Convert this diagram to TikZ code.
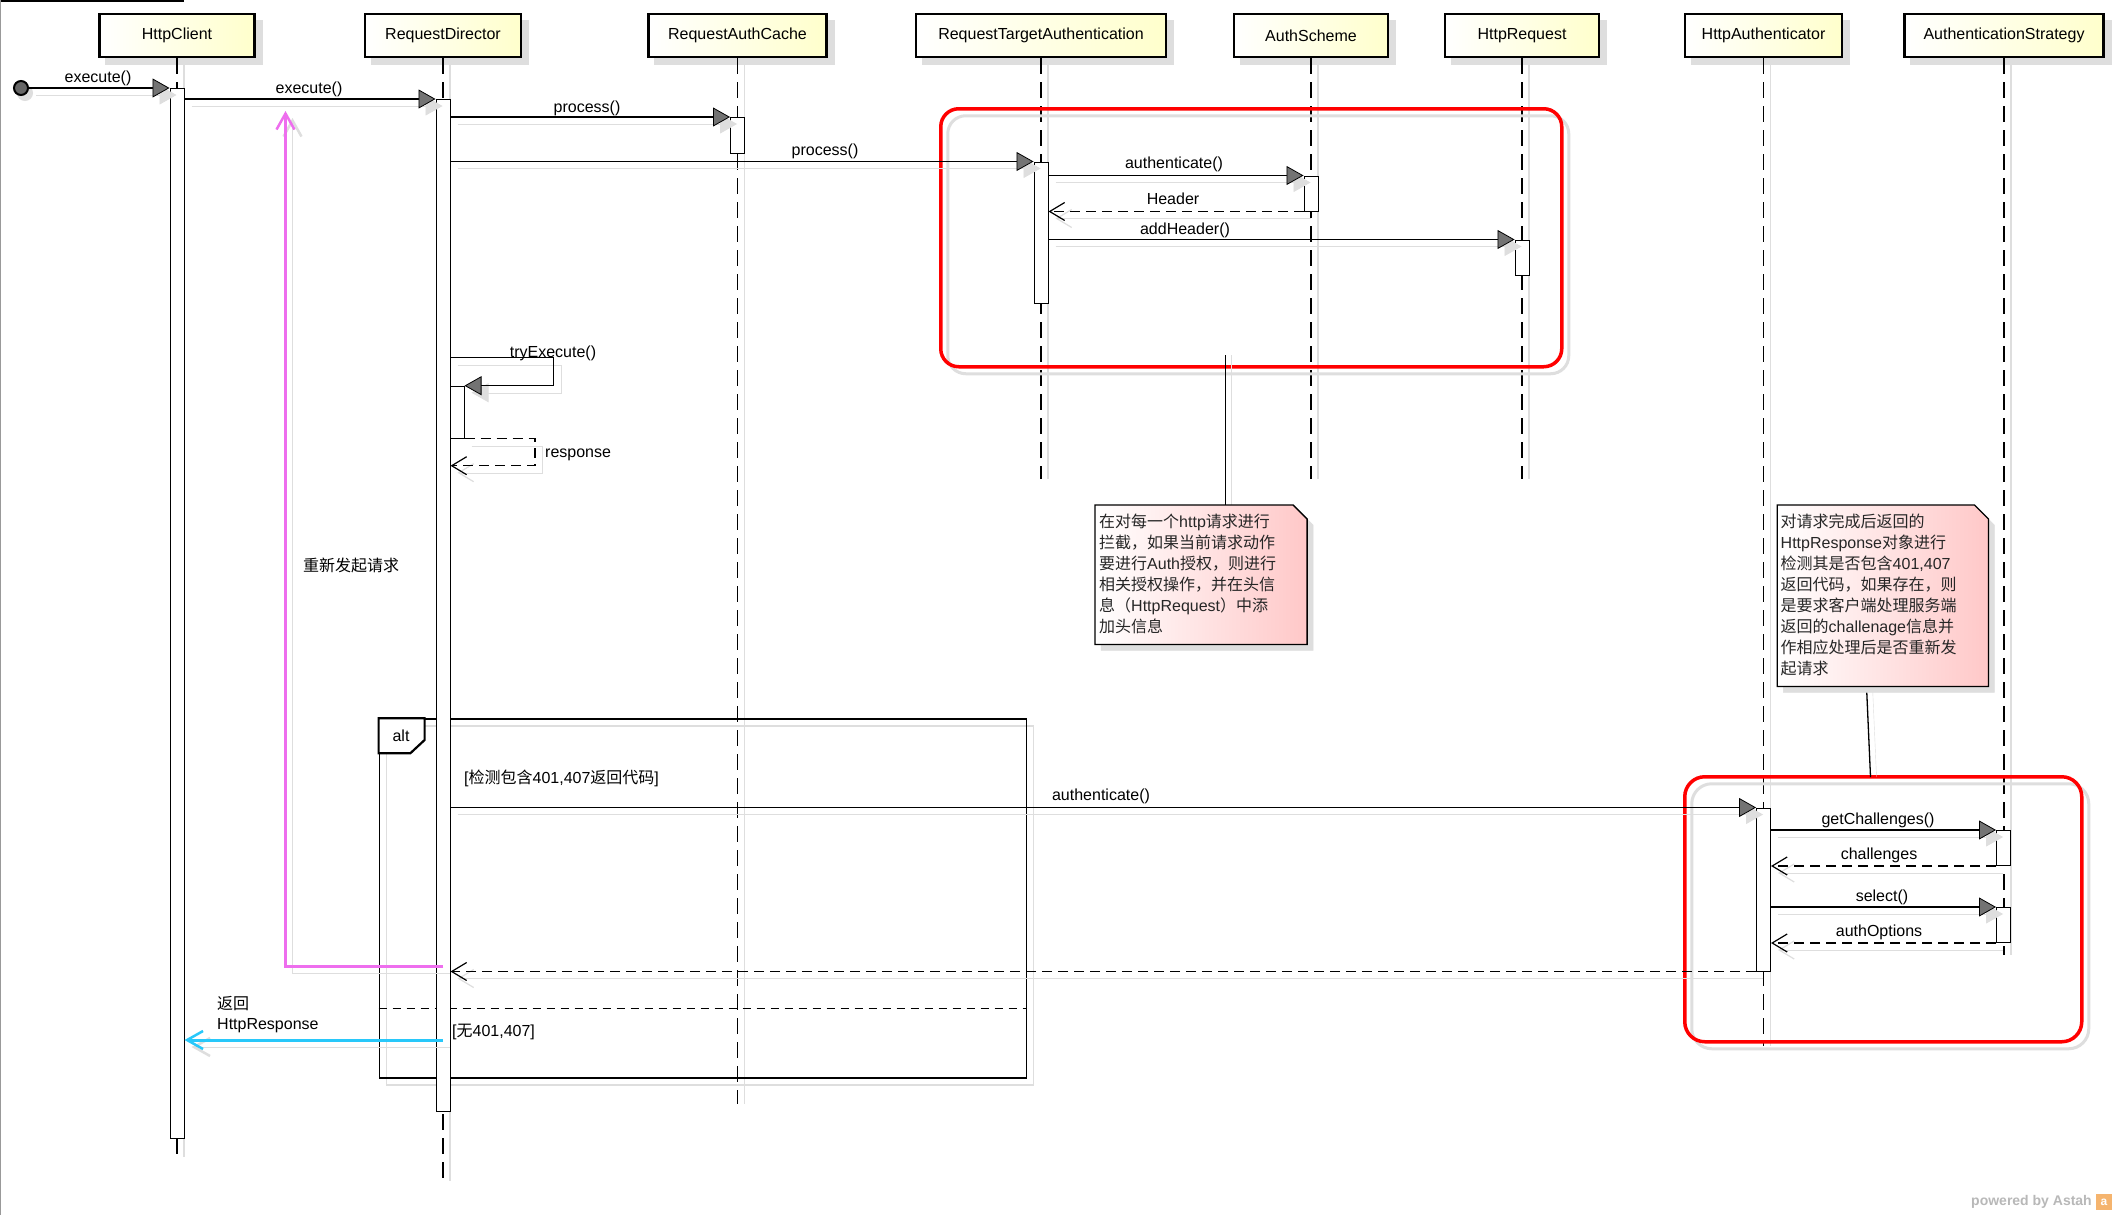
\documentclass[tikz,border=0pt]{standalone}
\usepackage{fontspec}
\setmainfont{Liberation Sans}
\newfontfamily\cjk{Noto Sans CJK SC}
\usetikzlibrary{arrows.meta,shadows}
\newcommand\zhs[1]{{\cjk #1}}
\definecolor{hdrY}{RGB}{255,255,204}
\definecolor{notePink}{RGB}{255,200,200}
\definecolor{magc}{RGB}{238,110,238}
\definecolor{cyanc}{RGB}{40,200,250}
\definecolor{shd}{RGB}{222,222,222}
\definecolor{astahO}{RGB}{245,180,110}
\begin{document}
\begin{tikzpicture}[x=1pt,y=-1pt,
  font=\fontsize{16}{19}\selectfont,
  hdr/.style={draw=black, line width=2.5pt, left color=white, right color=hdrY,
    minimum height=43pt, inner sep=0pt,
    drop shadow={shadow xshift=7pt, shadow yshift=-7pt, fill=shd, draw=shd, opacity=1}},
  lifeline/.style={line width=1.5pt, dash pattern=on 16pt off 8pt,
    preaction={draw=shd, solid, line width=1.2pt, transform canvas={shift={(7pt,0pt)}}}},
  bar/.style={draw=black, line width=1pt, fill=white, minimum width=14pt, inner sep=0pt, anchor=north},
  msg/.style={line width=1.3pt, -{Triangle[length=17pt,width=19pt,fill=black!55,line width=0.8pt]},
    preaction={draw=shd, -{Triangle[length=17pt,width=19pt,fill=shd,line width=0.8pt]},
      transform canvas={shift={(7pt,-7pt)}}}},
  ret/.style={line width=1.3pt, dash pattern=on 10pt off 6pt,
    -{Straight Barb[length=15pt,width=18pt,line width=1.2pt]},
    preaction={draw=shd, solid, -{Straight Barb[length=15pt,width=18pt,line width=1.2pt]},
      transform canvas={shift={(7pt,-7pt)}}}},
  lbl/.style={inner sep=0pt},
  redbox/.style={draw=red, line width=3.5pt, inner sep=0pt, anchor=north west,
    preaction={draw=shd, line width=3pt, transform canvas={shift={(7pt,-7pt)}}}},
  frame/.style={draw=black, line width=1.3pt, inner sep=0pt, anchor=north west,
    preaction={draw=shd, transform canvas={shift={(7pt,-7pt)}}}},
  notebox/.style={inner sep=0pt, anchor=north west},
  notebody/.style={draw=black, line width=1.3pt, left color=white, right color=notePink,
    drop shadow={shadow xshift=6pt, shadow yshift=-6pt, fill=shd, draw=shd, opacity=1}},
  notetxt/.style={inner sep=0pt, anchor=base west, text=black!85},
  conn/.style={line width=1.3pt, preaction={draw=shd, transform canvas={shift={(6pt,0pt)}}}},
  magarrow/.style={draw=magc, line width=3pt, -{Straight Barb[length=16pt,width=18pt,line width=2.5pt]},
    preaction={draw=shd, -{Straight Barb[length=16pt,width=18pt,line width=2.5pt]},
      transform canvas={shift={(7pt,-7pt)}}}},
  cyanarrow/.style={draw=cyanc, line width=3pt, -{Straight Barb[length=16pt,width=18pt,line width=2.5pt]},
    preaction={draw=shd, -{Straight Barb[length=16pt,width=18pt,line width=2.5pt]},
      transform canvas={shift={(7pt,-7pt)}}}}
]
\fill[white] (0,0) rectangle (2116,1215);
\useasboundingbox (0,0) rectangle (2116,1215);
\draw[line width=2pt] (0,1) -- (184,1);
\draw[black!40, line width=1pt] (0.5,0) -- (0.5,1215);

% lifeline ends
\coordinate (hcE) at (177,1157);
\coordinate (rdE) at (443,1181);
\coordinate (racE) at (737.5,1104);
\coordinate (rtaE) at (1041,479);
\coordinate (ashE) at (1311,479);
\coordinate (hrqE) at (1522,479);
\coordinate (hauE) at (1763.5,1046);
\coordinate (astE) at (2004,955);

% headers
\node[hdr, minimum width=155pt] (hc) at (177,35.5) {HttpClient};
\node[hdr, minimum width=156pt] (rd) at (443,35.5) {RequestDirector};
\node[hdr, minimum width=178pt] (rac) at (737.5,35.5) {RequestAuthCache};
\node[hdr, minimum width=250pt] (rta) at (1041,35.5) {RequestTargetAuthentication};
\node[hdr, minimum width=154pt] (ash) at (1311,35.5) {AuthScheme};
\node[hdr, minimum width=154pt] (hrq) at (1522,35.5) {HttpRequest};
\node[hdr, minimum width=157pt] (hau) at (1763.5,35.5) {HttpAuthenticator};
\node[hdr, minimum width=199pt] (ast) at (2004,35.5) {AuthenticationStrategy};

% lifelines
\draw[lifeline] (hc.south) -- (hcE);
\draw[lifeline] (rd.south) -- (rdE);
\draw[lifeline] (rac.south) -- (racE);
\draw[lifeline] (rta.south) -- (rtaE);
\draw[lifeline] (ash.south) -- (ashE);
\draw[lifeline] (hrq.south) -- (hrqE);
\draw[lifeline] (hau.south) -- (hauE);
\draw[lifeline] (ast.south) -- (astE);

% note connectors
\coordinate (n1a) at (1225.5,355);
\coordinate (n2a) at (1866.5,686.5);
\coordinate (n2b) at (1870.5,777);

% red highlight boxes
\node[redbox, rounded corners=18pt, minimum width=621pt, minimum height=258pt] (rb1) at (939,107) {};
\node[redbox, rounded corners=20pt, minimum width=397pt, minimum height=265pt] (rb2) at (1683,775) {};

% alt frame
\node[frame, minimum width=647.4pt, minimum height=359pt] (alt) at (378.6,718.3) {};
\draw[line width=2.2pt, fill=white] (alt.north west) -- ++(46,0) -- ++(0,21.7) -- ++(-14.3,13.3) -- ++(-31.7,0) -- cycle;
\node[lbl] (altl) at (401,736) {alt};
\coordinate (sepY) at (0,1008.3);
\draw[line width=1.3pt, dash pattern=on 8pt off 6pt] (alt.west |- sepY) -- (alt.east |- sepY);
\node[lbl, anchor=west] (g1) at (464,778) {[\zhs{检测包含}401,407\zhs{返回代码}]};
\node[lbl, anchor=west] (g2) at (452,1032) {[\zhs{无}401,407]};

% activation bars
\node[bar, minimum height=1050pt] (hcbar) at (177,88) {};
\node[bar, minimum height=1011.5pt] (rdbar) at (443,99) {};
\node[bar, minimum height=35.5pt] (racbar) at (737.5,117) {};
\node[bar, minimum height=141pt] (rtabar) at (1041,161.5) {};
\node[bar, minimum height=35pt] (ashbar) at (1311,175.5) {};
\node[bar, minimum height=35pt] (hrqbar) at (1522,239.5) {};
\node[bar, minimum height=52pt] (nest) at (457,385.7) {};
\node[bar, minimum height=163pt] (haubar) at (1763.5,807.5) {};
\node[bar, minimum height=35pt] (astbarA) at (2003.5,830) {};
\node[bar, minimum height=35pt] (astbarB) at (2003.5,907) {};

% start
\node[circle, draw, line width=2pt, fill=black!60, minimum size=14pt, inner sep=0pt,
  drop shadow={shadow xshift=4pt, shadow yshift=-5pt, fill=shd, draw=shd, opacity=1}] (start) at (21,88) {};

% messages
\draw[msg] (start) -- (hcbar.west |- start);
\node[lbl] (m0) at (98,78) {execute()};
\draw[msg] (hcbar.east |- rdbar.north) -- (rdbar.north west);
\node[lbl] (m1) at (309,89) {execute()};
\draw[msg] (rdbar.east |- racbar.north) -- (racbar.north west);
\node[lbl] (m2) at (587,108) {process()};
\draw[msg] (rdbar.east |- rtabar.north) -- (rtabar.north west);
\node[lbl] (m3) at (825,151) {process()};
\draw[msg] (rtabar.east |- ashbar.north) -- (ashbar.north west);
\node[lbl] (m4) at (1174,164) {authenticate()};
\draw[ret] (ashbar.south west) -- (rtabar.east |- ashbar.south);
\node[lbl] (m5) at (1173,199) {Header};
\draw[msg] (rtabar.east |- hrqbar.north) -- (hrqbar.north west);
\node[lbl] (m6) at (1185,230) {addHeader()};

\coordinate (tryR) at (553.7,357.7);
\draw[msg] (rdbar.east |- tryR) -- (tryR) |- (nest.north east);
\node[lbl] (m7) at (553,353) {tryExecute()};
\coordinate (respR) at (535,465.7);
\draw[ret] (nest.south east) -| (respR) -- (rdbar.east |- respR);
\node[lbl, anchor=west] (m8) at (545,455) {response};

\draw[msg] (rdbar.east |- haubar.north) -- (haubar.north west);
\node[lbl] (m9) at (1101,796) {authenticate()};
\draw[msg] (haubar.east |- astbarA.north) -- (astbarA.north west);
\node[lbl] (m10) at (1878,820) {getChallenges()};
\draw[ret] (astbarA.south west) -- (haubar.east |- astbarA.south);
\node[lbl] (m11) at (1879,855) {challenges};
\draw[msg] (haubar.east |- astbarB.north) -- (astbarB.north west);
\node[lbl] (m12) at (1882,897) {select()};
\draw[ret] (astbarB.south west) -- (haubar.east |- astbarB.south);
\node[lbl] (m13) at (1879,932) {authOptions};
\draw[ret] (haubar.south west) -- (rdbar.east |- haubar.south);

\coordinate (magC) at (285.5,966);
\coordinate (magTip) at (285.5,111);
\draw[magarrow] (rdbar.center |- magC) -- (magC) -- (magTip);
\node[lbl] (m14) at (351,565.5) {\zhs{重新发起请求}};

\coordinate (cyY) at (0,1040);
\draw[cyanarrow] (rdbar.center |- cyY) -- (hcbar.east |- cyY);
\node[lbl, anchor=west] (m15) at (217,1004) {\zhs{返回}};
\node[lbl, anchor=west] (m16) at (217,1026) {HttpResponse};

% notes
\node[notebox, minimum width=211.7pt, minimum height=139pt] (note1) at (1095,505) {};
\node[notebox, minimum width=210.7pt, minimum height=181pt] (note2) at (1777.3,505) {};
\draw[conn] (n1a) -- (n1a |- note1.north);
\draw[conn] (n2a) -- (n2b);
\draw[notebody] (note1.north west) -- ([xshift=-14pt]note1.north east) -- ([yshift=-14pt]note1.north east)
  -- (note1.south east) -- (note1.south west) -- cycle;
\draw[notebody] (note2.north west) -- ([xshift=-14pt]note2.north east) -- ([yshift=-14pt]note2.north east)
  -- (note2.south east) -- (note2.south west) -- cycle;
\foreach \t [count=\i] in {{\zhs{在对每一个}http\zhs{请求进行}},
  {\zhs{拦截，如果当前请求动作}},
  {\zhs{要进行}Auth\zhs{授权，则进行}},
  {\zhs{相关授权操作，并在头信}},
  {\zhs{息（}HttpRequest\zhs{）中添}},
  {\zhs{加头信息}}}
  \node[notetxt] (na\i) at (1099,506+21*\i) {\t};
\foreach \t [count=\i] in {{\zhs{对请求完成后返回的}},
  {HttpResponse\zhs{对象进行}},
  {\zhs{检测其是否包含}401,407},
  {\zhs{返回代码，如果存在，则}},
  {\zhs{是要求客户端处理服务端}},
  {\zhs{返回的}challenage\zhs{信息并}},
  {\zhs{作相应处理后是否重新发}},
  {\zhs{起请求}}}
  \node[notetxt] (nb\i) at (1780.5,506+21*\i) {\t};

% watermark
\node[lbl, anchor=west, text=black!28, font=\bfseries\fontsize{14}{16}\selectfont] (wm) at (1971,1202) {powered by Astah};
\node[fill=astahO, minimum size=16pt, inner sep=0pt, text=white, font=\bfseries\fontsize{12}{12}\selectfont] (logo) at (2104,1202) {a};
\end{tikzpicture}
\end{document}
